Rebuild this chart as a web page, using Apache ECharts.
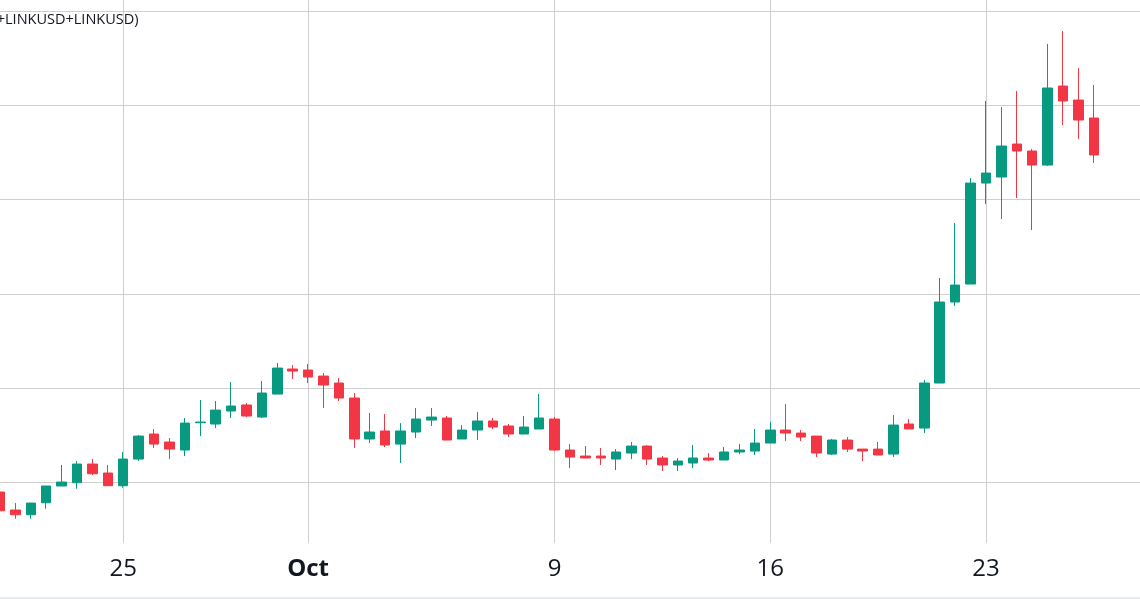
<!DOCTYPE html>
<html>
<head>
<meta charset="utf-8">
<script src="https://cdn.jsdelivr.net/npm/echarts@6/dist/echarts.min.js"></script>
<style>
html,body{margin:0;padding:0;background:#ffffff;}
#chart{width:1140px;height:599px;}
</style>
</head>
<body>
<div id="chart"></div>
<script>
// 12-hour candles, LINKUSD
var categories = [
'2023-09-21 00:00','2023-09-21 12:00','2023-09-22 00:00','2023-09-22 12:00','2023-09-23 00:00','2023-09-23 12:00',
'2023-09-24 00:00','2023-09-24 12:00','2023-09-25 00:00','2023-09-25 12:00','2023-09-26 00:00','2023-09-26 12:00',
'2023-09-27 00:00','2023-09-27 12:00','2023-09-28 00:00','2023-09-28 12:00','2023-09-29 00:00','2023-09-29 12:00',
'2023-09-30 00:00','2023-09-30 12:00','2023-10-01 00:00','2023-10-01 12:00','2023-10-02 00:00','2023-10-02 12:00',
'2023-10-03 00:00','2023-10-03 12:00','2023-10-04 00:00','2023-10-04 12:00','2023-10-05 00:00','2023-10-05 12:00',
'2023-10-06 00:00','2023-10-06 12:00','2023-10-07 00:00','2023-10-07 12:00','2023-10-08 00:00','2023-10-08 12:00',
'2023-10-09 00:00','2023-10-09 12:00','2023-10-10 00:00','2023-10-10 12:00','2023-10-11 00:00','2023-10-11 12:00',
'2023-10-12 00:00','2023-10-12 12:00','2023-10-13 00:00','2023-10-13 12:00','2023-10-14 00:00','2023-10-14 12:00',
'2023-10-15 00:00','2023-10-15 12:00','2023-10-16 00:00','2023-10-16 12:00','2023-10-17 00:00','2023-10-17 12:00',
'2023-10-18 00:00','2023-10-18 12:00','2023-10-19 00:00','2023-10-19 12:00','2023-10-20 00:00','2023-10-20 12:00',
'2023-10-21 00:00','2023-10-21 12:00','2023-10-22 00:00','2023-10-22 12:00','2023-10-23 00:00','2023-10-23 12:00',
'2023-10-24 00:00','2023-10-24 12:00','2023-10-25 00:00','2023-10-25 12:00','2023-10-26 00:00','2023-10-26 12:00',
'2023-10-27 00:00','2023-10-27 12:00','2023-10-28 00:00'
];

var opens = [
5.897,5.706,5.656,5.783,5.961,5.996,6.194,6.099,5.964,6.247,
6.513,6.428,6.343,6.633,6.619,6.757,6.821,6.693,6.937,7.203,
7.192,7.128,7.054,6.895,6.460,6.545,6.406,6.534,6.661,6.683,
6.460,6.555,6.651,6.598,6.513,6.566,6.672,6.343,6.279,6.279,
6.247,6.311,6.385,6.258,6.184,6.205,6.258,6.237,6.322,6.332,
6.417,6.555,6.523,6.491,6.300,6.449,6.353,6.353,6.300,6.619,
6.576,7.054,7.914,8.105,9.177,9.241,9.591,9.517,9.368,10.207,
10.058,9.867
];
var closes = [
5.698,5.656,5.780,5.961,6.003,6.194,6.091,5.964,6.247,6.491,
6.406,6.353,6.629,6.640,6.767,6.810,6.704,6.948,7.213,7.181,
7.118,7.033,6.895,6.460,6.534,6.396,6.545,6.672,6.693,6.449,
6.555,6.651,6.587,6.513,6.587,6.683,6.343,6.268,6.258,6.258,
6.322,6.385,6.247,6.184,6.226,6.258,6.237,6.322,6.343,6.417,
6.555,6.523,6.481,6.311,6.449,6.353,6.332,6.290,6.608,6.566,
7.054,7.914,8.094,9.177,9.283,9.570,9.517,9.368,10.186,10.048,
9.846,9.475
];
var lows = [
5.684,5.613,5.613,5.720,5.961,5.932,6.077,5.964,5.943,6.226,
6.364,6.247,6.279,6.491,6.576,6.683,6.693,6.683,6.937,7.097,
7.054,6.789,6.863,6.364,6.417,6.375,6.205,6.470,6.598,6.449,
6.460,6.449,6.566,6.481,6.513,6.566,6.332,6.152,6.258,6.184,
6.130,6.247,6.184,6.120,6.120,6.152,6.226,6.237,6.300,6.290,
6.417,6.438,6.438,6.268,6.290,6.322,6.226,6.290,6.268,6.566,
6.523,7.054,7.872,8.105,8.954,8.795,9.018,8.678,9.358,9.793,
9.644,9.390
];
var highs = [
5.918,5.780,5.780,5.961,6.184,6.226,6.247,6.184,6.322,6.502,
6.566,6.470,6.683,6.874,6.863,7.065,6.842,7.075,7.266,7.245,
7.256,7.160,7.107,6.948,6.736,6.725,6.629,6.789,6.789,6.704,
6.608,6.746,6.683,6.619,6.704,6.937,6.693,6.406,6.385,6.364,
6.353,6.428,6.396,6.279,6.258,6.396,6.311,6.375,6.406,6.566,
6.640,6.831,6.555,6.491,6.460,6.481,6.353,6.428,6.714,6.672,
7.086,8.169,8.753,9.230,10.048,9.984,10.154,9.538,10.653,10.791,
10.398,10.218
];

var tickDates = ['2023-09-25 00:00','2023-10-01 00:00','2023-10-09 00:00','2023-10-16 00:00','2023-10-23 00:00'];
var tickTexts = ['25','Oct','9','16','23'];
var monthTicks = ['Oct'];
var gridValues = [6, 7, 8, 9, 10, 11];
var titleText = '+LINKUSD+LINKUSD)';

var candles = opens.map(function (o, i) { return [o, closes[i], lows[i], highs[i]]; });

var GRID_COLOR = '#cfcfcf';
var UP = '#089981', DOWN = '#F23645';

var chart = echarts.init(document.getElementById('chart'), null, {renderer: 'canvas'});
chart.setOption({
  animation: false,
  backgroundColor: '#ffffff',
  grid: {left: -1.2, right: -1.4, top: 0, bottom: 56, containLabel: false},
  xAxis: {
    type: 'category',
    data: categories,
    boundaryGap: false,
    axisLine: {show: false},
    axisTick: {show: false},
    splitLine: {
      show: true,
      interval: function (idx, val) { return tickDates.indexOf(val) >= 0; },
      lineStyle: {color: GRID_COLOR, width: 1}
    },
    axisLabel: {
      show: true,
      interval: function (idx, val) { return tickDates.indexOf(val) >= 0; },
      hideOverlap: false,
      margin: 14,
      color: '#131722',
      fontFamily: 'Open Sans',
      fontSize: 24,
      lineHeight: 24,
      formatter: function (val) {
        var k = tickDates.indexOf(val);
        if (k < 0) return '';
        var t = tickTexts[k];
        return monthTicks.indexOf(t) >= 0 ? '{b|' + t + '}' : t;
      },
      rich: {
        b: {fontWeight: 'bold', fontFamily: 'Open Sans', fontSize: 24, color: '#131722', lineHeight: 24}
      }
    }
  },
  yAxis: {
    type: 'value',
    min: 5.356,
    max: 11.1201,
    show: true,
    axisLine: {show: false},
    axisTick: {show: false},
    axisLabel: {show: false},
    splitLine: {show: false}
  },
  series: [{
    type: 'candlestick',
    data: candles,
    barWidth: 10,
    z: 2,
    itemStyle: {
      color: UP, color0: DOWN,
      borderColor: UP, borderColor0: DOWN,
      borderWidth: 1
    },
    markLine: {
      silent: true,
      z: 1,
      symbol: ['none', 'none'],
      label: {show: false},
      lineStyle: {color: GRID_COLOR, width: 1, type: 'solid'},
      emphasis: {disabled: true},
      animation: false,
      data: gridValues.map(function (v) { return {yAxis: v}; })
    }
  }],
  graphic: [
    {
      type: 'text', x: 138.5, y: 20, z: 10,
      style: {
        text: titleText, fill: '#131722',
        font: '14.5px "Open Sans"', align: 'right', verticalAlign: 'middle'
      }
    },
    {
      type: 'rect', z: 10,
      shape: {x: 0, y: 597, width: 1140, height: 2},
      style: {fill: '#e9ebf0'}
    }
  ]
});
</script>
</body>
</html>
